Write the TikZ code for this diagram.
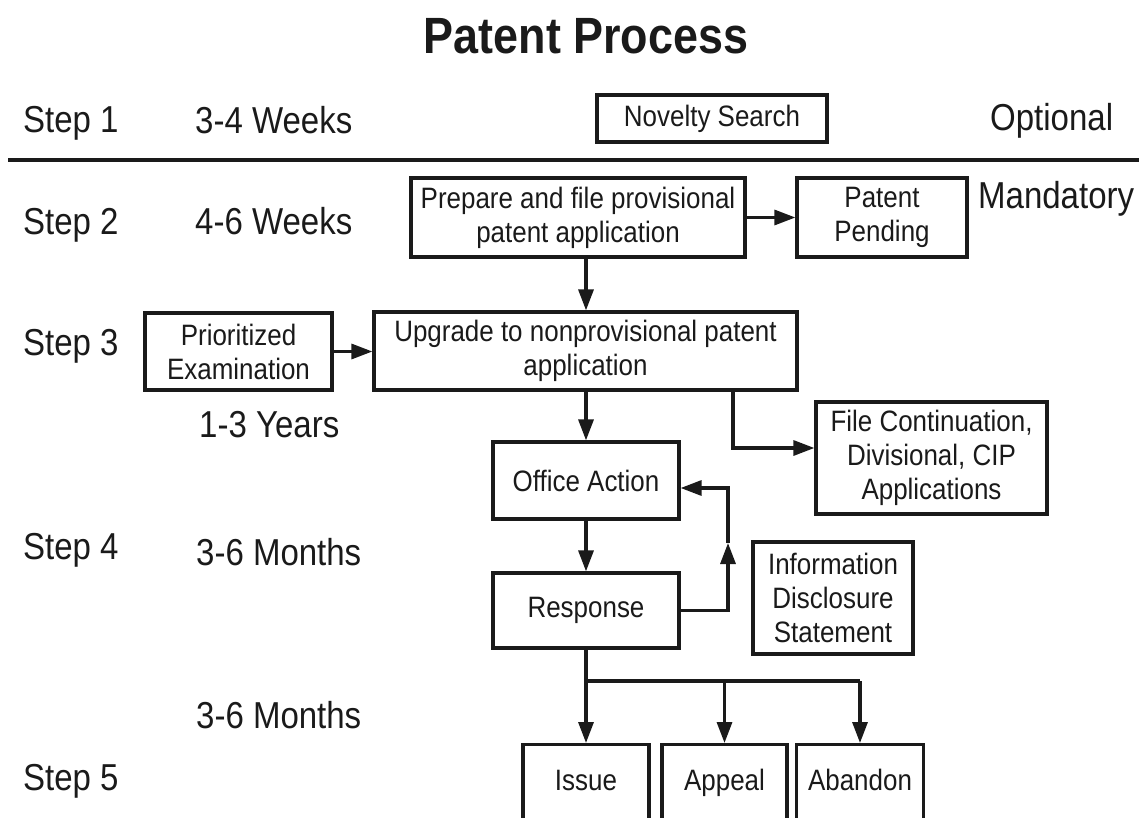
\documentclass[tikz,border=0pt]{standalone}
\usepackage{fontspec}
\setmainfont{Liberation Sans}[FakeStretch=0.88]
\usetikzlibrary{arrows.meta,calc}
\definecolor{ink}{HTML}{1A1A1A}
\begin{document}
\begin{tikzpicture}[x=1pt,y=-1pt, every node/.style={text=ink},
  box/.style={draw=ink, line width=3.2pt, inner sep=0pt, align=center, font=\fontsize{29.5}{34}\selectfont},
  endbox/.style={box, anchor=north, text height=46pt, text depth=44pt},
  lbl/.style={anchor=base west, inner sep=0pt, font=\fontsize{37.5}{41}\selectfont},
  conn/.style={draw=ink, line width=3.2pt},
  arr/.style={conn, -{Triangle[length=21pt,width=15pt]}}]
\useasboundingbox (0,0) rectangle (1139,818);
% title
\node[anchor=base, inner sep=0pt, font=\fontsize{51}{55}\selectfont\bfseries] (title) at (586,54) {Patent Process};
% left labels
\node[lbl] (s1) at (23,133) {Step 1};
\node[lbl] (s2) at (23,235) {Step 2};
\node[lbl] (s3) at (23,355) {Step 3};
\node[lbl] (s4) at (23,559) {Step 4};
\node[lbl] (s5) at (23,790) {Step 5};
\node[lbl] (t1) at (195,134) {3-4 Weeks};
\node[lbl] (t2) at (195,235) {4-6 Weeks};
\node[lbl] (t3) at (199,437) {1-3 Years};
\node[lbl] (t4) at (196,565) {3-6 Months};
\node[lbl] (t5) at (196,728) {3-6 Months};
\node[lbl] (opt) at (990,131) {Optional};
\node[lbl] (mand) at (978,209) {Mandatory};
% rule
\coordinate (rl) at (8,160);
\coordinate (rr) at (1139,160);
\draw[ink, line width=3.8pt] (rl) -- (rr);
% boxes
\node[box, minimum width=230pt, minimum height=47pt] (nov) at (712,118.5) {Novelty Search};
\node[box, minimum width=334pt, minimum height=79pt] (prep) at (578,217.5) {Prepare and file provisional\\patent application};
\node[box, minimum width=170pt, minimum height=79pt] (pp) at (882,217.5) {Patent\\Pending};
\node[box, minimum width=187pt, minimum height=77pt] (prio) at (238.5,351.5) {Prioritized\\Examination};
\node[box, minimum width=423pt, minimum height=78pt] (upg) at (585.5,351) {Upgrade to nonprovisional patent\\application};
\node[box, minimum width=186pt, minimum height=77pt] (oa) at (586,480.5) {Office Action};
\node[box, minimum width=231pt, minimum height=112pt] (fc) at (931.5,458) {File Continuation,\\Divisional, CIP\\Applications};
\node[box, minimum width=186pt, minimum height=75pt] (resp) at (586,610.5) {Response};
\node[box, minimum width=160pt, minimum height=112pt] (ids) at (833,598) {Information\\Disclosure\\Statement};
\node[endbox, minimum width=126pt] (is) at (586,743) {Issue};
\node[endbox, minimum width=125pt] (ap) at (724.5,743) {Appeal};
\node[endbox, minimum width=127pt] (ab) at (860,743) {Abandon};
% connectors
\draw[arr] (prep.east) -- (pp.west);
\draw[arr] (prep.south -| oa) -- (upg.north -| oa);
\draw[arr] (prio.east) -- (upg.west |- prio.east);
\draw[arr] (upg.south -| oa) -- (oa.north);
\coordinate (fcb) at (733,448);
\draw[arr] (upg.south -| fcb) |- (fc.west |- fcb);
\draw[arr] (oa.south) -- (resp.north);
\coordinate (fbm) at (728,543);
\coordinate (fbt) at (728,488);
\draw[arr] (resp.east) -| (fbm);
\draw[arr] (fbm) -- (fbt) -- (fbt -| oa.east);
\coordinate (br) at (586,681);
\draw[conn] (resp.south) -- (br) -- (br -| ab);
\draw[arr] (br) -- (is.north);
\draw[arr] (br -| ap) -- (ap.north);
\draw[arr] (br -| ab) -- (ab.north);
\end{tikzpicture}
\end{document}
